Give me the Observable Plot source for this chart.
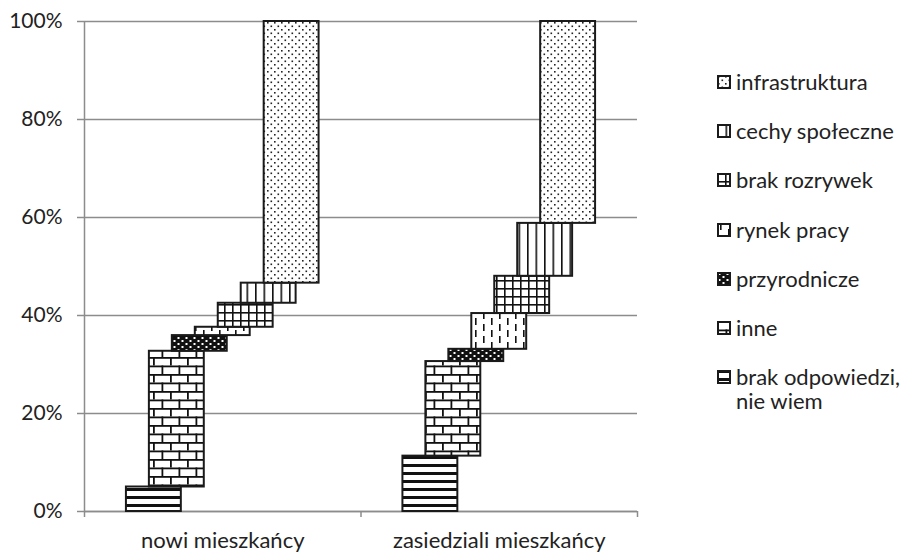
<!DOCTYPE html>
<html><head><meta charset="utf-8">
<script src="https://cdn.jsdelivr.net/npm/d3@7"></script>
<script src="https://cdn.jsdelivr.net/npm/@observablehq/plot@0.6"></script>
<style>
body{margin:0;background:#fff;font-family:Lato,"Open Sans",sans-serif;}
#wrap{position:relative;width:905px;height:553px;overflow:hidden;}
#legend{position:absolute;left:717px;top:0;}
.item{position:absolute;left:0;display:flex;align-items:flex-start;font-size:22px;line-height:24px;color:#222;white-space:pre;}
.item svg{margin-top:5px;margin-right:5px;flex:none;}
</style></head><body><div id="wrap"><div id="chart"></div><div id="legend"></div></div>
<script>
const categories = ["nowi mieszkańcy", "zasiedziali mieszkańcy"];
const series = ["brak odpowiedzi,\nnie wiem", "inne", "przyrodnicze", "rynek pracy", "brak rozrywek", "cechy społeczne", "infrastruktura"];
const nowi = [5.0, 27.7, 3.2, 1.7, 4.9, 4.1, 53.4];
const zasiedziali = [11.3, 19.3, 2.5, 7.3, 7.6, 10.8, 41.2];
const yTicks = [0, 20, 40, 60, 80, 100];
const patternIds = ["p-hstripe", "p-brick", "p-darkdots", "p-dashes", "p-grid", "p-vlines", "p-dots"];

const values = [nowi, zasiedziali];
const bandPx = 277;
const groupHalf = 96.5 / bandPx, step = 23 / bandPx, barW = 55 / bandPx;
const rects = [];
values.forEach((vals, ci) => {
  const cum = d3.cumsum(vals);
  vals.forEach((v, si) => {
    const x1 = ci + 0.5 - groupHalf + si * step;
    rects.push({cat: categories[ci], series: series[si], si, x1, x2: x1 + barW, y1: cum[si] - v, y2: cum[si]});
  });
});

const grey = "#8c8c8c";
const plot = Plot.plot({
  width: 700, height: 553,
  marginLeft: 84, marginRight: 63, marginTop: 21, marginBottom: 42,
  x: {domain: [0, 2]},
  y: {domain: [0, 100]},
  color: {type: "identity"},
  style: {fontFamily: "Lato, 'Open Sans', sans-serif", fontSize: "22px", color: "#222", background: "#fff"},
  marks: [
    Plot.gridY(yTicks, {stroke: grey, strokeOpacity: 1, strokeWidth: 1.5}),
    Plot.ruleX([0], {stroke: grey, strokeWidth: 1.5}),
    Plot.ruleY([0], {stroke: grey, strokeWidth: 1.5}),
    Plot.axisY(yTicks, {tickFormat: d => d + "%", tickSize: 7, tickPadding: 15, stroke: grey, strokeWidth: 1.5, fill: "#222", fontSize: 21, label: null}),
    Plot.axisX([0, 1, 2], {tickFormat: () => "", tickSize: 6, stroke: grey, strokeWidth: 1.5, label: null}),
    Plot.axisX([0.5, 1.5], {tickFormat: d => categories[Math.floor(d)], tickSize: 0, tickPadding: 21, fill: "#222", label: null}),
    Plot.rect(rects, {x1: "x1", x2: "x2", y1: "y1", y2: "y2", fill: d => `url(#${patternIds[d.si]})`, stroke: "#1a1a1a", strokeWidth: 2})
  ]
});
document.getElementById("chart").appendChild(plot);

// pattern definitions
const svg = d3.select(plot);
const defs = svg.insert("defs", ":first-child");
function pat(id, w, h, bg) {
  const p = defs.append("pattern").attr("id", id).attr("patternUnits", "userSpaceOnUse").attr("width", w).attr("height", h);
  p.append("rect").attr("width", w).attr("height", h).attr("fill", bg);
  return p;
}
const K = "#111";
// horizontal stripes
pat("p-hstripe", 8, 8, "#fff").append("rect").attr("y", 0).attr("width", 8).attr("height", 3).attr("fill", K);
// brick
{
  const p = pat("p-brick", 17, 17, "#fff");
  p.append("rect").attr("x", 0).attr("y", 0).attr("width", 17).attr("height", 1.8).attr("fill", K);
  p.append("rect").attr("x", 0).attr("y", 8.5).attr("width", 17).attr("height", 1.8).attr("fill", K);
  p.append("rect").attr("x", 0).attr("y", 0).attr("width", 1.8).attr("height", 8.5).attr("fill", K);
  p.append("rect").attr("x", 8.5).attr("y", 8.5).attr("width", 1.8).attr("height", 8.5).attr("fill", K);
}
// dark dots
{
  const p = pat("p-darkdots", 8, 6, K);
  p.append("rect").attr("x", 1.5).attr("y", 1).attr("width", 2).attr("height", 2).attr("fill", "#fff");
  p.append("rect").attr("x", 5.5).attr("y", 4).attr("width", 2).attr("height", 2).attr("fill", "#fff");
}
// dashed vertical
{
  const p = pat("p-dashes", 16, 12, "#fff");
  p.append("rect").attr("x", 3).attr("y", 0).attr("width", 1.6).attr("height", 7).attr("fill", K);
  p.append("rect").attr("x", 11).attr("y", 6).attr("width", 1.6).attr("height", 7).attr("fill", K);
  p.append("rect").attr("x", 11).attr("y", -6).attr("width", 1.6).attr("height", 7).attr("fill", K);
}
// grid
{
  const p = pat("p-grid", 8, 8, "#fff");
  p.append("rect").attr("x", 0).attr("y", 0).attr("width", 1.6).attr("height", 8).attr("fill", K);
  p.append("rect").attr("x", 0).attr("y", 0).attr("width", 8).attr("height", 1.6).attr("fill", K);
}
// vertical lines
pat("p-vlines", 8.5, 8, "#fff").append("rect").attr("x", 0).attr("width", 1.6).attr("height", 8).attr("fill", K);
// sparse dots
{
  const p = pat("p-dots", 7, 7, "#fff");
  p.append("rect").attr("x", 1).attr("y", 1).attr("width", 1.6).attr("height", 1.6).attr("fill", "#222");
  p.append("rect").attr("x", 4.5).attr("y", 4.5).attr("width", 1.6).attr("height", 1.6).attr("fill", "#222");
}

// legend (top of stack first)
const legend = d3.select("#legend");
const order = d3.range(series.length).reverse();
order.forEach((si, i) => {
  const item = legend.append("div").attr("class", "item").style("top", (70 + i * 49.2) + "px");
  const s = item.append("svg").attr("width", 14).attr("height", 14);
  s.append("rect").attr("x", 1).attr("y", 1).attr("width", 12).attr("height", 12)
    .attr("fill", `url(#${patternIds[si]})`).attr("stroke", "#1a1a1a").attr("stroke-width", 2);
  item.append("span").text(series[si]);
});
</script></body></html>
